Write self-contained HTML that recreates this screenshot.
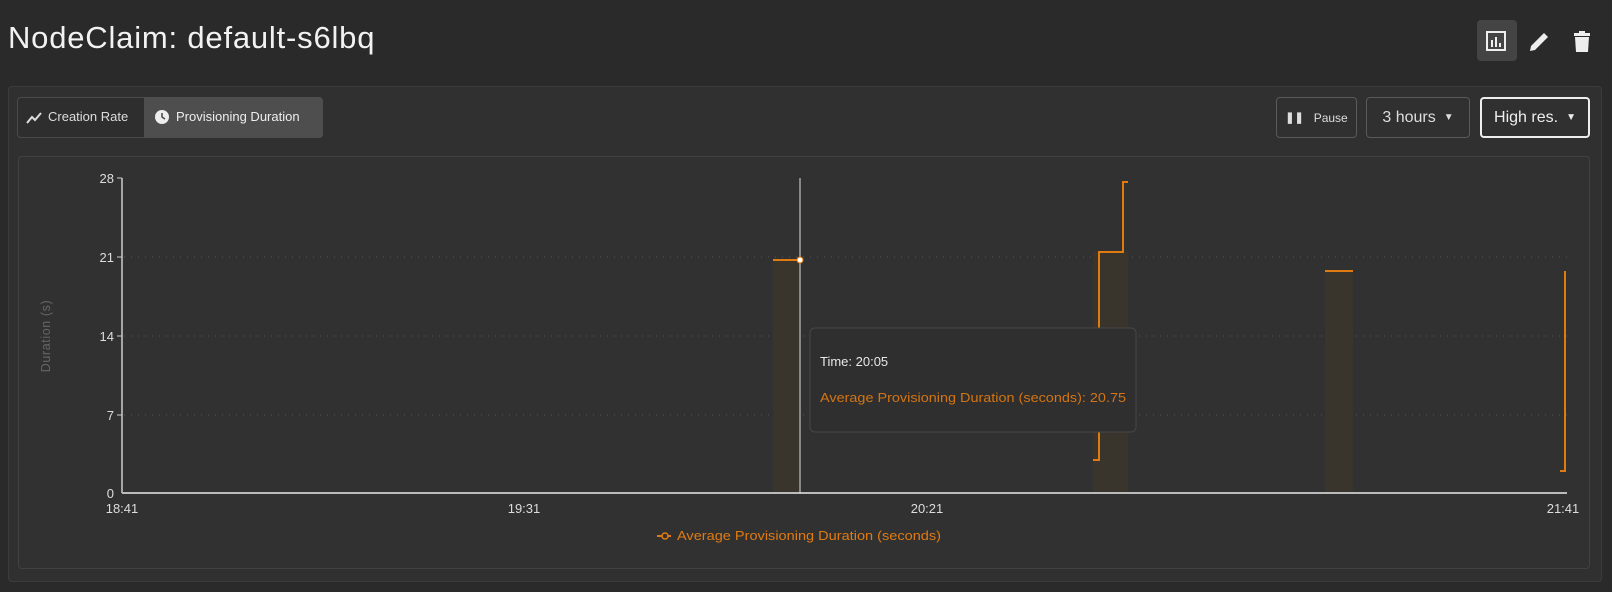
<!DOCTYPE html>
<html><head><meta charset="utf-8"><style>
*{box-sizing:border-box;margin:0;padding:0}
body{width:1612px;height:592px;background:#2a2a2a;font-family:"Liberation Sans",sans-serif;color:#eee;position:relative;overflow:hidden}
.abs{position:absolute}
.title{left:8px;top:20px;font-size:31px;color:#f2f2f2;letter-spacing:0.8px}
.panel{left:8px;top:86px;width:1594px;height:496px;background:#303030;border:1px solid #3c3c3c;border-radius:4px}
.btn{border:1px solid #5a5a5a;border-radius:4px;color:#ddd;display:flex;align-items:center;justify-content:center}
.chartbox{left:18px;top:156px;width:1572px;height:413px;background:#313131;border:1px solid #424242;border-radius:4px}
</style></head><body>
<div class="abs title">NodeClaim: default-s6lbq</div>
<div class="abs" style="left:1477px;top:20px;width:40px;height:41px;background:#444;border-radius:4px"></div>
<svg class="abs" style="left:0;top:0" width="1612" height="100">
<rect x="1487" y="32" width="18" height="18" fill="none" stroke="#eee" stroke-width="2"/>
<rect x="1491" y="40" width="2" height="7" fill="#eee"/><rect x="1495" y="37" width="2" height="10" fill="#eee"/><rect x="1499" y="43" width="2" height="4" fill="#eee"/>
<path d="M1530 51 L1531 46 L1544 33 L1548 37 L1535 50 Z" fill="#eee"/>
<rect x="1574" y="33" width="16" height="3" fill="#eee"/><rect x="1579" y="31" width="6" height="3" fill="#eee"/>
<path d="M1575 37 H1589 L1588 52 H1576 Z" fill="#eee"/>
</svg>
<div class="abs panel"></div>
<div class="abs" style="left:17px;top:97px;width:306px;height:41px;border:1px solid #4a4a4a;border-radius:4px;background:#2e2e2e"></div>
<div class="abs" style="left:144px;top:97px;width:179px;height:41px;background:#4e4e4e;border-radius:0 4px 4px 0"></div>
<svg class="abs" style="left:0;top:90px" width="340" height="50">
<polyline points="27,33 32,27 35,30 41,23" fill="none" stroke="#ddd" stroke-width="2"/>
<circle cx="162" cy="27" r="7" fill="#eee"/><path d="M162 23 V27 L165 29" stroke="#444" stroke-width="1.5" fill="none"/>
</svg>
<div class="abs" style="left:48px;top:109px;font-size:13px;color:#ddd">Creation Rate</div>
<div class="abs" style="left:176px;top:109px;font-size:13px;color:#eee">Provisioning Duration</div>
<div class="abs btn" style="left:1276px;top:97px;width:81px;height:41px;font-size:12px"><span style="font-size:11px;margin-right:10px;font-weight:bold">❚❚</span>Pause</div>
<div class="abs btn" style="left:1366px;top:97px;width:104px;height:41px;font-size:16px">3 hours <span style="font-size:10px;margin-left:8px">▼</span></div>
<div class="abs btn" style="left:1480px;top:97px;width:110px;height:41px;font-size:16px;border:2px solid #eee;color:#eee">High res. <span style="font-size:10px;margin-left:8px">▼</span></div>
<div class="abs chartbox"></div>
<svg class="abs" style="left:0;top:0" width="1612" height="592" font-family="Liberation Sans, sans-serif">
<g stroke="#555" stroke-dasharray="1,6" stroke-width="1">
<line x1="124" y1="257" x2="1567" y2="257"/><line x1="124" y1="336" x2="1567" y2="336"/><line x1="124" y1="415" x2="1567" y2="415"/>
</g>
<rect x="773" y="260" width="27" height="233" fill="#3a352c"/>
<rect x="1093" y="252" width="35" height="241" fill="#3a352c"/>
<rect x="1325" y="271" width="28" height="222" fill="#3a352c"/>
<g fill="none" stroke="#e07b12" stroke-width="2">
<polyline points="773,260 800,260"/>
<polyline points="1093,460 1099,460 1099,252 1123,252 1123,182 1128,182"/>
<polyline points="1325,271 1353,271"/>
<polyline points="1560,471 1565,471 1565,271"/>
</g>
<line x1="122" y1="178" x2="122" y2="493" stroke="#ccc" stroke-width="1.5"/>
<line x1="117" y1="178" x2="122" y2="178" stroke="#ccc"/>
<line x1="117" y1="257" x2="122" y2="257" stroke="#ccc"/>
<line x1="117" y1="336" x2="122" y2="336" stroke="#ccc"/>
<line x1="117" y1="415" x2="122" y2="415" stroke="#ccc"/>
<line x1="122" y1="493" x2="1567" y2="493" stroke="#bbb" stroke-width="2"/>
<line x1="800" y1="178" x2="800" y2="493" stroke="#ddd" stroke-width="1"/>
<circle cx="800" cy="260" r="3" fill="#fff" stroke="#e07b12"/>
<g fill="#ddd" font-size="13" text-anchor="end">
<text x="114" y="183">28</text><text x="114" y="262">21</text><text x="114" y="341">14</text><text x="114" y="420">7</text><text x="114" y="498">0</text>
</g>
<g fill="#ddd" font-size="13" text-anchor="middle">
<text x="122" y="513">18:41</text><text x="524" y="513">19:31</text><text x="927" y="513">20:21</text><text x="1563" y="513">21:41</text>
</g>
<text transform="translate(50,336) rotate(-90)" text-anchor="middle" fill="#666" font-size="12.5" letter-spacing="0.6">Duration (s)</text>
<line x1="657" y1="536" x2="671" y2="536" stroke="#e07b12" stroke-width="2"/>
<circle cx="665" cy="536" r="3" fill="#303030" stroke="#e07b12" stroke-width="1.5"/>
<text x="677" y="540" fill="#e07b12" font-size="13" textLength="264" lengthAdjust="spacingAndGlyphs">Average Provisioning Duration (seconds)</text>
<rect x="810" y="328" width="326" height="104" rx="5" fill="#2f2f2f" stroke="#474747"/>
<text x="820" y="366" fill="#e8e8e8" font-size="13">Time: 20:05</text>
<text x="820" y="402" fill="#d47512" font-size="13" textLength="306" lengthAdjust="spacingAndGlyphs">Average Provisioning Duration (seconds): 20.75</text>
</svg>
</body></html>
